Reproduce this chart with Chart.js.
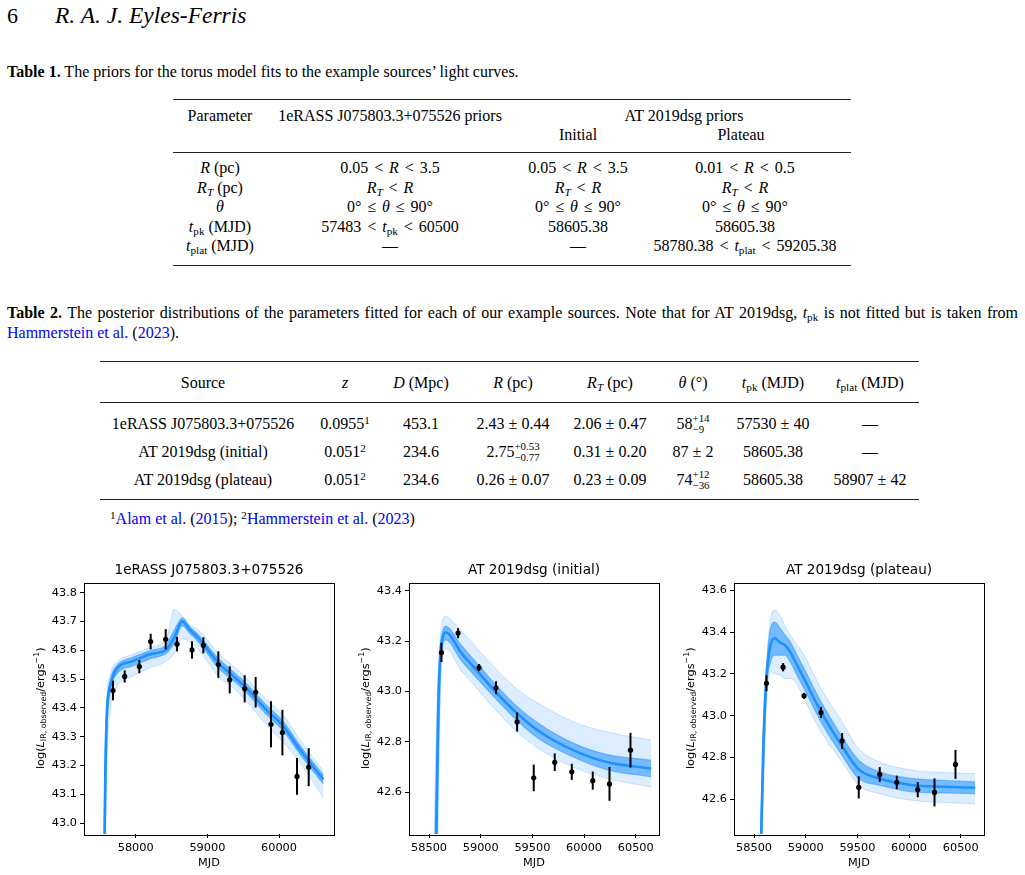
<!DOCTYPE html>
<html>
<head>
<meta charset="utf-8">
<script src="https://cdn.jsdelivr.net/npm/chart.js@4.4.1/dist/chart.umd.min.js"></script>
<style>
  html, body { margin: 0; padding: 0; background: #fff; }
  #page { position: relative; width: 1025px; height: 875px; overflow: hidden;
          font-family: "Liberation Serif", "Times New Roman", serif; color: #000; }
  .c { position: absolute; white-space: nowrap; line-height: 1; transform: translate(-50%, -50%); font-size: 16px; }
  .l { position: absolute; white-space: nowrap; line-height: 1; transform: translateY(-50%); font-size: 16px; }
  .rule { position: absolute; height: 0; border-top: 1px solid #222; }
  .lk { color: #0000ff; }
  .rel { margin: 0 0.12em; }
  sub { font-size: 70%; vertical-align: -0.25em; line-height: 0; }
  sup { font-size: 70%; vertical-align: 0.45em; line-height: 0; }
  .ss { display: inline-block; vertical-align: -0.38em; font-size: 68%; line-height: 1; text-align: left; }
  .ss span { display: block; }
  canvas { position: absolute; top: 555px; }
</style>
</head>
<body>
<div id="page">
  <div class="l" style="left:7px;top:16px;font-size:22px;">6</div>
  <div class="l" style="left:55px;top:16px;font-size:23.5px;font-style:italic;">R. A. J. Eyles-Ferris</div>

  <div class="l" style="left:7px;top:72px;"><b>Table 1.</b> The priors for the torus model fits to the example sources’ light curves.</div>

  <div style="position:absolute;left:7px;top:305px;width:1011px;font-size:16px;line-height:1;text-align:justify;text-align-last:justify;">
    <b>Table 2.</b> The posterior distributions of the parameters fitted for each of our example sources. Note that for AT 2019dsg, <i>t</i><sub>pk</sub> is not fitted but is taken from</div>
  <div class="l" style="left:7px;top:333px;"><span class="lk">Hammerstein et al.</span> (<span class="lk">2023</span>).</div>

  <div class="l" style="left:110px;top:519px;"><sup>1</sup><span class="lk">Alam et al.</span> (<span class="lk">2015</span>); <sup>2</sup><span class="lk">Hammerstein et al.</span> (<span class="lk">2023</span>)</div>

  <canvas id="panelErass" width="340" height="320" style="left:0px"></canvas>
  <canvas id="panelInitial" width="340" height="320" style="left:325px"></canvas>
  <canvas id="panelPlateau" width="340" height="320" style="left:650px"></canvas>
</div>

<script>
// ======================================================
// TABLES (text only)
// ======================================================
const page = document.getElementById("page");

function put(cls, x, y, html) {
  const d = document.createElement("div");
  d.className = cls;
  d.style.left = x + "px";
  d.style.top = y + "px";
  d.innerHTML = html;
  page.appendChild(d);
}

function rule(x1, x2, y) {
  const d = document.createElement("div");
  d.className = "rule";
  d.style.left = x1 + "px";
  d.style.width = (x2 - x1) + "px";
  d.style.top = y + "px";
  page.appendChild(d);
}

const LT = " <span class='rel'>&lt;</span> ";
const LE = " <span class='rel'>≤</span> ";

// ---------------- TABLE 1 ----------------
const t1Cols = [220, 390, 578, 745];
const t1Rows = [
  ["<i>R</i> (pc)", `0.05${LT}<i>R</i>${LT}3.5`, `0.05${LT}<i>R</i>${LT}3.5`, `0.01${LT}<i>R</i>${LT}0.5`],
  ["<i>R<sub>T</sub></i> (pc)", `<i>R<sub>T</sub></i>${LT}<i>R</i>`, `<i>R<sub>T</sub></i>${LT}<i>R</i>`, `<i>R<sub>T</sub></i>${LT}<i>R</i>`],
  ["<i>θ</i>", `0°${LE}<i>θ</i>${LE}90°`, `0°${LE}<i>θ</i>${LE}90°`, `0°${LE}<i>θ</i>${LE}90°`],
  ["<i>t</i><sub>pk</sub> (MJD)", `57483${LT}<i>t</i><sub>pk</sub>${LT}60500`, "58605.38", "58605.38"],
  ["<i>t</i><sub>plat</sub> (MJD)", "—", "—", `58780.38${LT}<i>t</i><sub>plat</sub>${LT}59205.38`],
];
const t1RowY = [168, 187.6, 207.2, 226.8, 246.4];

rule(173, 851, 99);
put("c", 220, 115.5, "Parameter");
put("c", 390, 115.5, "1eRASS J075803.3+075526 priors");
put("c", 684, 115.5, "AT 2019dsg priors");
put("c", 578, 134.5, "Initial");
put("c", 741, 134.5, "Plateau");
rule(173, 851, 152);
t1Rows.forEach((row, r) => row.forEach((cell, c) => put("c", t1Cols[c], t1RowY[r], cell)));
rule(173, 851, 265);

// ---------------- TABLE 2 ----------------
const t2Cols = [203, 345, 421, 513, 610, 693, 773, 870];
const t2Head = ["Source", "<i>z</i>", "<i>D</i> (Mpc)", "<i>R</i> (pc)", "<i>R<sub>T</sub></i> (pc)",
                "<i>θ</i> (°)", "<i>t</i><sub>pk</sub> (MJD)", "<i>t</i><sub>plat</sub> (MJD)"];
const t2Rows = [
  ["1eRASS J075803.3+075526", "0.0955<sup>1</sup>", "453.1", "2.43 ± 0.44", "2.06 ± 0.47",
   "58<span class='ss'><span>+14</span><span>−9</span></span>", "57530 ± 40", "—"],
  ["AT 2019dsg (initial)", "0.051<sup>2</sup>", "234.6", "2.75<span class='ss'><span>+0.53</span><span>−0.77</span></span>",
   "0.31 ± 0.20", "87 ± 2", "58605.38", "—"],
  ["AT 2019dsg (plateau)", "0.051<sup>2</sup>", "234.6", "0.26 ± 0.07", "0.23 ± 0.09",
   "74<span class='ss'><span>+12</span><span>−36</span></span>", "58605.38", "58907 ± 42"],
];
const t2RowY = [424, 452, 480];

rule(100, 919, 361);
t2Head.forEach((h, c) => put("c", t2Cols[c], 383, h));
rule(100, 919, 402);
t2Rows.forEach((row, r) => row.forEach((cell, c) => put("c", t2Cols[c], t2RowY[r], cell)));
rule(100, 919, 499);

// ======================================================
// CHART DATA
// ======================================================
// ---------------- 1eRASS J075803.3+075526 ----------------
const erassObsMjd = [57684, 57847, 58051, 58209, 58419, 58577, 58786, 58944, 59153, 59312, 59521, 59674, 59888, 60047, 60251, 60414];
const erassObsLum = [43.460, 43.509, 43.543, 43.630, 43.638, 43.621, 43.601, 43.617, 43.550, 43.497, 43.466, 43.454, 43.343, 43.314, 43.162, 43.194];
const erassObsErr = [0.034, 0.021, 0.023, 0.027, 0.035, 0.025, 0.030, 0.028, 0.046, 0.047, 0.047, 0.053, 0.080, 0.079, 0.064, 0.066];

const erassModelMjd     = [57555, 57575, 57600, 57650, 57730, 57960, 58200, 58430, 58540, 58650, 58750, 58890, 59150, 59360, 59520, 59820, 60060, 60290, 60620];
const erassModelOuterHi = [42.95, 43.30, 43.44, 43.52, 43.557, 43.586, 43.609, 43.643, 43.742, 43.719, 43.690, 43.667, 43.590, 43.545, 43.510, 43.429, 43.375, 43.290, 43.180];
const erassModelInnerHi = [42.82, 43.22, 43.41, 43.50, 43.545, 43.575, 43.598, 43.620, 43.670, 43.712, 43.683, 43.650, 43.572, 43.525, 43.490, 43.410, 43.352, 43.270, 43.166];
const erassModelMid     = [42.70, 43.15, 43.39, 43.48, 43.533, 43.562, 43.586, 43.603, 43.645, 43.700, 43.672, 43.638, 43.557, 43.510, 43.475, 43.394, 43.336, 43.255, 43.151];
const erassModelInnerLo = [42.55, 43.00, 43.32, 43.46, 43.515, 43.545, 43.570, 43.590, 43.625, 43.685, 43.660, 43.625, 43.540, 43.495, 43.460, 43.378, 43.320, 43.240, 43.135];
const erassModelOuterLo = [42.30, 42.80, 43.20, 43.40, 43.470, 43.510, 43.539, 43.562, 43.590, 43.640, 43.630, 43.597, 43.510, 43.470, 43.430, 43.342, 43.280, 43.210, 43.087];

const erassXTicks = [58000, 59000, 60000];
const erassYTicks = [43.0, 43.1, 43.2, 43.3, 43.4, 43.5, 43.6, 43.7, 43.8];

// ---------------- AT 2019dsg (both fits share the photometry) ----------------
const dsgObsMjd = [58620, 58781, 58984, 59148, 59352, 59513, 59716, 59881, 60084, 60246, 60449];
const dsgObsLum = [43.155, 43.232, 43.095, 43.015, 42.879, 42.657, 42.719, 42.681, 42.646, 42.633, 42.767];
const dsgObsErr = [0.038, 0.020, 0.014, 0.026, 0.038, 0.053, 0.035, 0.032, 0.036, 0.067, 0.069];

const initialModelMjd     = [58540, 58570, 58590, 58610, 58630, 58660, 58700, 58800, 58926, 59148, 59352, 59571, 59894, 60217, 60650];
const initialModelOuterHi = [42.20, 42.85, 43.10, 43.22, 43.280, 43.300, 43.290, 43.245, 43.190, 43.090, 43.010, 42.950, 42.880, 42.840, 42.807];
const initialModelInnerHi = [42.00, 42.65, 43.00, 43.18, 43.235, 43.260, 43.250, 43.190, 43.130, 43.025, 42.940, 42.870, 42.795, 42.750, 42.727];
const initialModelMid     = [41.90, 42.45, 42.95, 43.15, 43.210, 43.235, 43.225, 43.160, 43.100, 42.997, 42.913, 42.840, 42.767, 42.720, 42.694];
const initialModelInnerLo = [41.70, 42.20, 42.75, 43.08, 43.180, 43.205, 43.195, 43.130, 43.070, 42.970, 42.885, 42.810, 42.740, 42.690, 42.661];
const initialModelOuterLo = [41.50, 42.00, 42.50, 43.00, 43.140, 43.170, 43.160, 43.090, 43.030, 42.925, 42.840, 42.770, 42.700, 42.655, 42.621];

const plateauModelMjd     = [58540, 58570, 58590, 58620, 58660, 58700, 58750, 58800, 58850, 58900, 58984, 59148, 59352, 59513, 59713, 60036, 60350, 60640];
const plateauModelOuterHi = [42.00, 42.60, 43.00, 43.26, 43.464, 43.504, 43.480, 43.430, 43.385, 43.353, 43.289, 43.130, 42.970, 42.842, 42.779, 42.739, 42.728, 42.723];
const plateauModelInnerHi = [41.95, 42.52, 42.92, 43.22, 43.417, 43.448, 43.420, 43.385, 43.353, 43.305, 43.225, 43.066, 42.898, 42.787, 42.731, 42.699, 42.690, 42.683];
const plateauModelMid     = [41.90, 42.45, 42.85, 43.18, 43.340, 43.370, 43.350, 43.337, 43.305, 43.257, 43.177, 43.018, 42.855, 42.743, 42.699, 42.667, 42.660, 42.655];
const plateauModelInnerLo = [41.80, 42.32, 42.72, 43.12, 43.257, 43.289, 43.289, 43.289, 43.257, 43.209, 43.130, 42.970, 42.810, 42.699, 42.667, 42.635, 42.630, 42.627];
const plateauModelOuterLo = [41.70, 42.20, 42.60, 43.05, 43.209, 43.201, 43.193, 43.177, 43.177, 43.161, 43.082, 42.922, 42.779, 42.667, 42.627, 42.595, 42.584, 42.579];

const dsgXTicks = [58500, 59000, 59500, 60000, 60500];
const initialYTicks = [42.6, 42.8, 43.0, 43.2, 43.4];
const plateauYTicks = [42.6, 42.8, 43.0, 43.2, 43.4, 43.6];

// ======================================================
// HELPERS
// ======================================================
const BLUE = "30,144,255";
const TICK_FONT = { family: "DejaVu Sans", size: 11.3 };

function toPoints(xs, ys) {
  return xs.map((x, i) => ({ x, y: ys[i] }));
}

function bandDatasets(mjd, outerHi, innerHi, mid, innerLo, outerLo) {
  const base = { type: "line", pointRadius: 0, cubicInterpolationMode: "monotone", borderJoinStyle: "round" };
  return [
    { ...base, data: toPoints(mjd, mid), borderColor: `rgba(${BLUE},1)`, borderWidth: 2.6, fill: false, order: 1 },
    { ...base, data: toPoints(mjd, innerHi), borderColor: `rgba(${BLUE},0.5)`, borderWidth: 1.2, fill: false, order: 2 },
    { ...base, data: toPoints(mjd, innerLo), borderColor: `rgba(${BLUE},0.5)`, borderWidth: 1.2,
      fill: 2, backgroundColor: `rgba(${BLUE},0.55)`, order: 2 },
    { ...base, data: toPoints(mjd, outerHi), borderColor: `rgba(${BLUE},0.22)`, borderWidth: 1, fill: false, order: 3 },
    { ...base, data: toPoints(mjd, outerLo), borderColor: `rgba(${BLUE},0.22)`, borderWidth: 1,
      fill: 4, backgroundColor: `rgba(${BLUE},0.16)`, order: 3 },
  ];
}

// draws error bars, the box, the title and the mathtext y label
function decorPlugin(title, obsX, obsY, obsErr) {
  return {
    id: "decor",
    afterDatasetsDraw(chart) {
      const { ctx, scales: { x, y } } = chart;
      ctx.save();
      ctx.strokeStyle = "#000";
      ctx.lineWidth = 2;
      obsX.forEach((mjd, i) => {
        const px = x.getPixelForValue(mjd);
        ctx.beginPath();
        ctx.moveTo(px, y.getPixelForValue(obsY[i] - obsErr[i]));
        ctx.lineTo(px, y.getPixelForValue(obsY[i] + obsErr[i]));
        ctx.stroke();
      });
      ctx.restore();
    },
    afterDraw(chart) {
      const { ctx, chartArea: a } = chart;
      ctx.save();
      ctx.strokeStyle = "#000";
      ctx.lineWidth = 1;
      ctx.strokeRect(Math.round(a.left) + 0.5, Math.round(a.top) + 0.5,
                     Math.round(a.right - a.left), Math.round(a.bottom - a.top));

      ctx.fillStyle = "#000";
      ctx.font = '13.6px "DejaVu Sans"';
      ctx.textAlign = "center";
      ctx.textBaseline = "middle";
      ctx.fillText(title, (a.left + a.right) / 2, 15);

      // ---- y label: log(L_{IR, observed}/ergs^{-1}) ----
      const segs = [
        { t: "log(", f: '11.3px "DejaVu Sans"', dy: 0 },
        { t: "L", f: 'italic 11.3px "DejaVu Sans"', dy: 0 },
        { t: "IR, observed", f: '7.9px "DejaVu Sans"', dy: 2.6 },
        { t: "/ergs", f: '11.3px "DejaVu Sans"', dy: 0 },
        { t: "−1", f: '7.9px "DejaVu Sans"', dy: -4.6 },
        { t: ")", f: '11.3px "DejaVu Sans"', dy: 0 },
      ];
      let total = 0;
      segs.forEach((s) => { ctx.font = s.f; s.w = ctx.measureText(s.t).width; total += s.w; });
      ctx.translate(39.5, (a.top + a.bottom) / 2);
      ctx.rotate(-Math.PI / 2);
      ctx.textAlign = "left";
      ctx.textBaseline = "alphabetic";
      let cx = -total / 2;
      segs.forEach((s) => {
        ctx.font = s.f;
        ctx.fillText(s.t, cx, 4 + s.dy);
        cx += s.w;
      });
      ctx.restore();
    },
  };
}

function makePanel(canvasId, cfg) {
  const datasets = [
    { type: "line", data: toPoints(cfg.obsX, cfg.obsY), showLine: false, pointRadius: 2.6,
      pointBackgroundColor: "#000", pointBorderColor: "#000", pointBorderWidth: 0, order: 0 },
    ...bandDatasets(...cfg.band),
  ];

  new Chart(document.getElementById(canvasId), {
    type: "line",
    data: { datasets },
    options: {
      responsive: false,
      animation: false,
      events: [],
      layout: { padding: { top: 27.5, right: 6, bottom: 0, left: 0 } },
      plugins: { legend: { display: false }, tooltip: { enabled: false }, title: { display: false } },
      scales: {
        x: {
          type: "linear",
          min: cfg.xRange[0],
          max: cfg.xRange[1],
          afterBuildTicks: (s) => { s.ticks = cfg.xTicks.map((v) => ({ value: v })); },
          afterFit: (s) => { s.height = 41; },
          grid: { drawOnChartArea: false, drawTicks: true, tickLength: 4, color: "#000" },
          border: { display: false },
          ticks: { color: "#000", font: TICK_FONT, padding: 3, maxRotation: 0, autoSkip: false,
                   callback: (v) => String(v) },
          title: { display: true, text: "MJD", color: "#000", font: TICK_FONT, padding: { top: 0, bottom: 5 } },
        },
        y: {
          type: "linear",
          min: cfg.yRange[0],
          max: cfg.yRange[1],
          afterBuildTicks: (s) => { s.ticks = cfg.yTicks.map((v) => ({ value: v })); },
          afterFit: (s) => { s.width = 84; },
          grid: { drawOnChartArea: false, drawTicks: true, tickLength: 4, color: "#000" },
          border: { display: false },
          ticks: { color: "#000", font: TICK_FONT, padding: 3, autoSkip: false,
                   callback: (v) => Number(v).toFixed(1) },
        },
      },
    },
    plugins: [decorPlugin(cfg.title, cfg.obsX, cfg.obsY, cfg.obsErr)],
  });
}

// ======================================================
// PANELS
// ======================================================
makePanel("panelErass", {
  title: "1eRASS J075803.3+075526",
  obsX: erassObsMjd, obsY: erassObsLum, obsErr: erassObsErr,
  band: [erassModelMjd, erassModelOuterHi, erassModelInnerHi, erassModelMid, erassModelInnerLo, erassModelOuterLo],
  xRange: [57279, 60767], yRange: [42.962, 43.835],
  xTicks: erassXTicks, yTicks: erassYTicks,
});

makePanel("panelInitial", {
  title: "AT 2019dsg (initial)",
  obsX: dsgObsMjd, obsY: dsgObsLum, obsErr: dsgObsErr,
  band: [initialModelMjd, initialModelOuterHi, initialModelInnerHi, initialModelMid, initialModelInnerLo, initialModelOuterLo],
  xRange: [58306, 60725], yRange: [42.434, 43.433],
  xTicks: dsgXTicks, yTicks: initialYTicks,
});

makePanel("panelPlateau", {
  title: "AT 2019dsg (plateau)",
  obsX: dsgObsMjd, obsY: dsgObsLum, obsErr: dsgObsErr,
  band: [plateauModelMjd, plateauModelOuterHi, plateauModelInnerHi, plateauModelMid, plateauModelInnerLo, plateauModelOuterLo],
  xRange: [58306, 60725], yRange: [42.434, 43.637],
  xTicks: dsgXTicks, yTicks: plateauYTicks,
});
</script>
</body>
</html>
